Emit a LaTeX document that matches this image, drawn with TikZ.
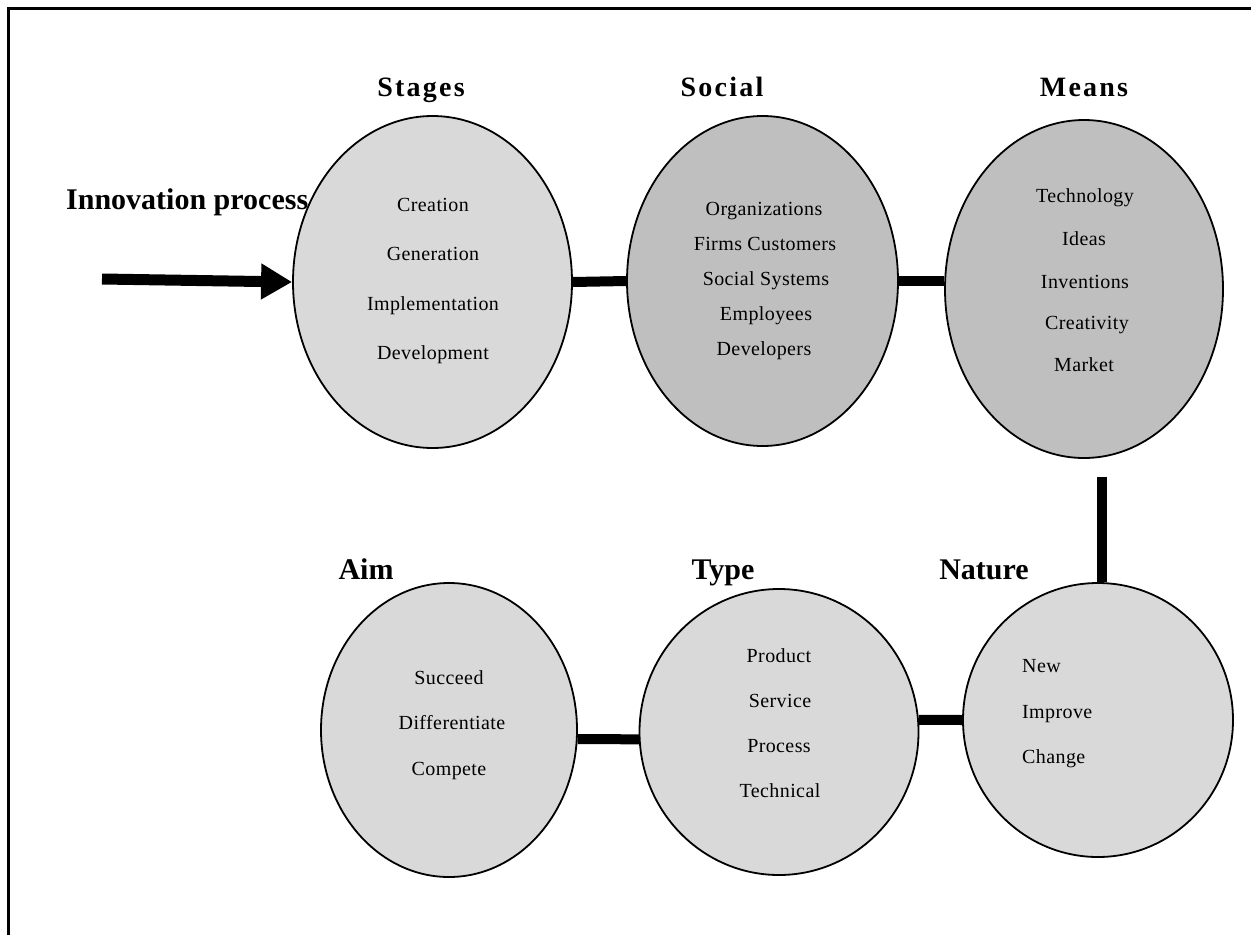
\documentclass[tikz,border=0pt]{standalone}
\usepackage{fontspec}
\setmainfont{Liberation Serif}
\newfontfamily\itemfont[LetterSpace=2]{Liberation Serif}
\newfontfamily\titlefont[LetterSpace=8]{Liberation Serif}
\usetikzlibrary{shapes.geometric,arrows.meta}

\definecolor{lightfill}{HTML}{D9D9D9}
\definecolor{darkfill}{HTML}{BFBFBF}

\tikzset{
  blob/.style={ellipse, draw, line width=1.8pt, inner sep=0pt},
  item/.style={font=\itemfont\fontsize{20}{24}\selectfont, inner sep=0pt,
               text height=16pt, text depth=2pt},
  head/.style={font=\bfseries\fontsize{30}{35}\selectfont, inner sep=0pt,
               text height=24pt, text depth=5pt},
  title/.style={font=\titlefont\bfseries\fontsize{28}{33}\selectfont, inner sep=0pt,
                text height=24pt, text depth=5pt},
  link/.style={line width=10pt},
}

\begin{document}
\begin{tikzpicture}[x=1pt, y=-1pt]
  \useasboundingbox (0,0) rectangle (1251,935);
  \fill[white] (0,0) rectangle (1251,935);

  % outer frame (left and top edges)
  \draw[line width=2.5pt] (8.5,935) -- (8.5,8.5) -- (1251,8.5);

  % ellipses
  \node[blob, fill=lightfill, minimum width=279pt, minimum height=332pt] (st) at (432.5,282) {};
  \node[blob, fill=darkfill,  minimum width=271pt, minimum height=330pt] (so) at (762.5,281) {};
  \node[blob, fill=darkfill,  minimum width=278pt, minimum height=338pt] (me) at (1084,289) {};
  \node[blob, fill=lightfill, minimum width=256pt, minimum height=294pt] (ai) at (449,730) {};
  \node[blob, fill=lightfill, minimum width=279pt, minimum height=286pt] (ty) at (779,732) {};
  \node[blob, fill=lightfill, minimum width=270pt, minimum height=274pt] (na) at (1098,720) {};

  % headings
  \node[head, anchor=west] (inn) at (66,200) {Innovation process};
  \node[title] (tst) at (421,87) {Stages};
  \node[title] (tso) at (722,87) {Social};
  \node[title] (tme) at (1084,87) {Means};
  \node[head] (tai) at (366,570) {Aim};
  \node[head] (tty) at (723,570) {Type};
  \node[head] (tna) at (984,570) {Nature};

  % stages
  \node[item] (s1) at (433,204) {Creation};
  \node[item] (s2) at (433,253) {Generation};
  \node[item] (s3) at (433,303) {Implementation};
  \node[item] (s4) at (433,352) {Development};

  % social
  \node[item] (o1) at (764,208) {Organizations};
  \node[item] (o2) at (765,243) {Firms Customers};
  \node[item] (o3) at (766,278) {Social Systems};
  \node[item] (o4) at (766,313) {Employees};
  \node[item] (o5) at (764,348) {Developers};

  % means
  \node[item] (m1) at (1085,195) {Technology};
  \node[item] (m2) at (1084,238) {Ideas};
  \node[item] (m3) at (1085,281) {Inventions};
  \node[item] (m4) at (1087,322) {Creativity};
  \node[item] (m5) at (1084,364) {Market};

  % aim
  \node[item] (a1) at (449,677) {Succeed};
  \node[item] (a2) at (452,722) {Differentiate};
  \node[item] (a3) at (449,768) {Compete};

  % type
  \node[item] (y1) at (779,655) {Product};
  \node[item] (y2) at (780,700) {Service};
  \node[item] (y3) at (779,745) {Process};
  \node[item] (y4) at (780,790) {Technical};

  % nature
  \node[item, anchor=west] (n1) at (1022,665) {New};
  \node[item, anchor=west] (n2) at (1022,711) {Improve};
  \node[item, anchor=west] (n3) at (1022,756) {Change};

  % connectors
  \coordinate (src) at (102,279);
  \draw[line width=11pt, -{Triangle[length=31pt,width=34pt]}] (src) -- (st.west);
  \draw[link] (st.east) -- (so.west);
  \draw[link] (so.east) -- (so.east -| me.west);
  \coordinate (mg) at (1102,477);
  \draw[link] (mg) -- (mg |- na.north);
  \draw[link] (na.west) -- (ty.5);
  \draw[link] (ty.183) -- (ai.-4);
\end{tikzpicture}
\end{document}
